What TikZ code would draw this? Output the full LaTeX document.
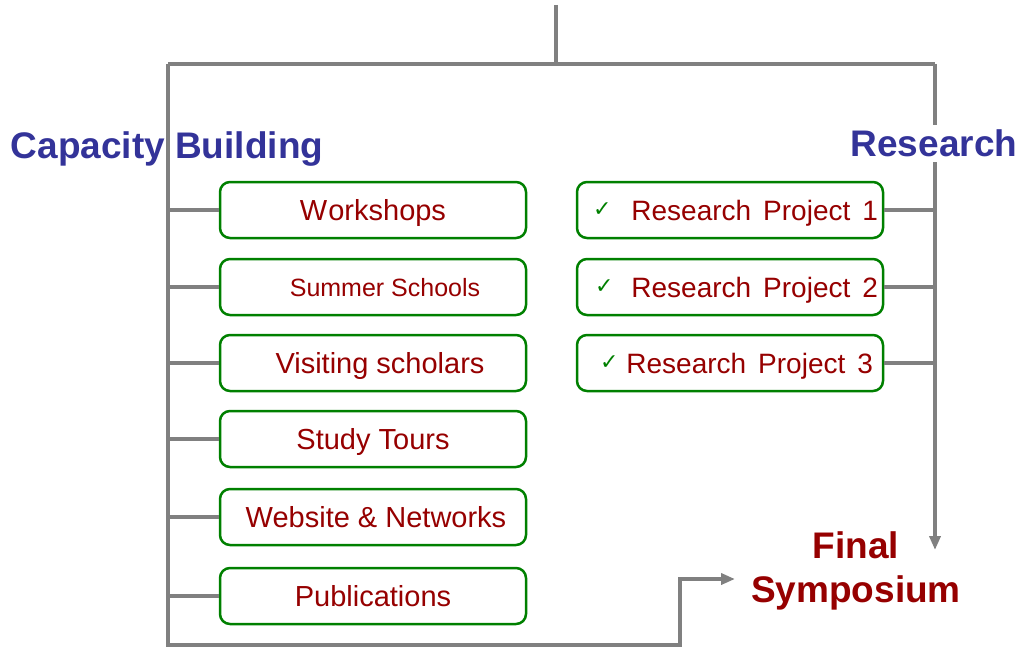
\documentclass[tikz,border=0pt]{standalone}
\usepackage{fontspec}
\setmainfont{Liberation Sans}
\newfontfamily\symfont{DejaVu Sans}
\usetikzlibrary{arrows.meta}

\definecolor{headblue}{RGB}{51,51,153}
\definecolor{itemred}{RGB}{150,0,0}
\definecolor{boxgreen}{RGB}{0,128,0}
\definecolor{trunkgray}{RGB}{128,128,128}

\newcommand{\tick}{\raisebox{4pt}{\symfont\fontsize{22}{22}\selectfont\textcolor{boxgreen}{✓}}}
\newcommand{\proj}[3]{\makebox[278pt][l]{\hspace{#1}\tick\hspace{#2}Research\hspace{12pt}Project\hspace{12pt}#3}}

\begin{document}
\begin{tikzpicture}[x=1pt,y=-1pt,
    trunk/.style={draw=trunkgray,line width=4pt},
    tip/.style={-{Triangle[length=14pt,width=11pt]}},
    heading/.style={font=\fontsize{37}{40}\selectfont\bfseries,text=headblue,anchor=base},
    item/.style={draw=boxgreen,line width=2.5pt,rounded corners=10pt,fill=white,
        minimum width=306pt,minimum height=56pt,text=itemred,text depth=0pt,
        font=\fontsize{29}{34}\selectfont},
    projitem/.style={item,inner xsep=14pt,font=\fontsize{28}{34}\selectfont}]
    \useasboundingbox (0,0) rectangle (1022,650);

    \coordinate (root) at (556,5);
    \coordinate (capl) at (168,64);
    \coordinate (resl) at (935,64);
    \coordinate (resin) at (935,550);
    \coordinate (bend) at (680,645);
    \coordinate (symin) at (735,579);

    % capacity building items
    \node[item] (ws) at (373,210) {W\kern1pt orkshops};
    \node[item,font=\fontsize{25}{30}\selectfont] (ss) at (373,287) {\hspace{24pt}Summer Schools};
    \node[item] (vs) at (373,363) {\hspace{14pt}Visiting scholars};
    \node[item] (st) at (373,439) {Study Tours};
    \node[item] (wn) at (373,517) {\hspace{6pt}Website \& Networks};
    \node[item] (pb) at (373,596) {Publications};

    % research items
    \node[projitem] (rp1) at (730,210) {\proj{2pt}{20pt}{1}};
    \node[projitem] (rp2) at (730,287) {\proj{4pt}{18pt}{2}};
    \node[projitem] (rp3) at (730,363) {\proj{9pt}{8pt}{3}};

    \node[font=\fontsize{37}{44}\selectfont\bfseries,text=itemred,align=center] (sym) at (856,571) {Final\\Symposium};

    \draw[trunk] (root) -- (root |- capl);
    \draw[trunk] (capl) -- (resl);
    \draw[trunk,tip] (resl) -- (resin);
    \draw[trunk,tip] (capl) |- (bend) |- (symin);

    \foreach \b in {ws,ss,vs,st,wn,pb}
        \draw[trunk] (\b.west) -- (\b.west -| capl);
    \foreach \b in {rp1,rp2,rp3}
        \draw[trunk] (\b.east) -- (\b.east -| resl);

    \node[heading] (cb) at (167,158) {Capacity Building};
    \node[heading,fill=white,inner sep=5pt] (rs) at (934,157) {Research};
\end{tikzpicture}
\end{document}
